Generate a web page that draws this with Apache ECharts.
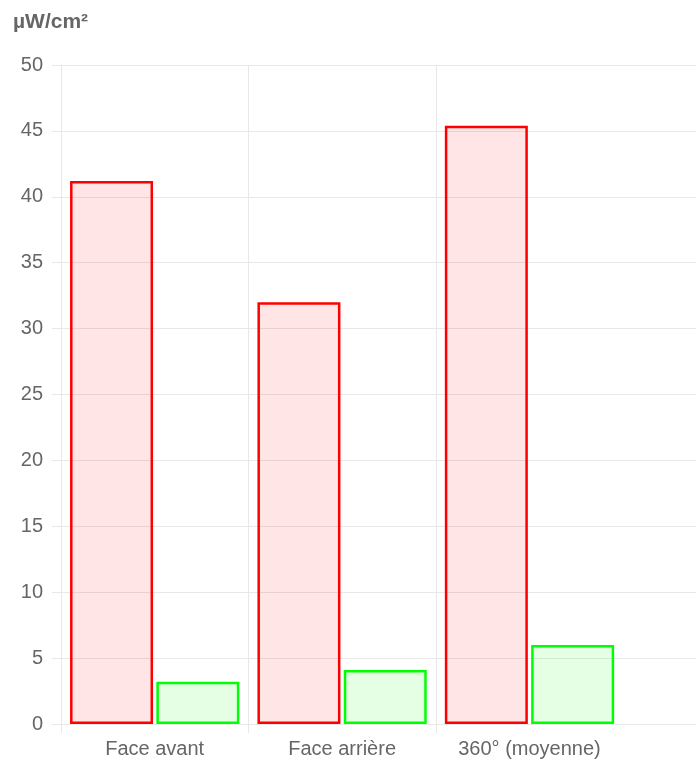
<!DOCTYPE html>
<html>
<head>
<meta charset="utf-8">
<script src="https://cdn.jsdelivr.net/npm/echarts@6/dist/echarts.min.js"></script>
<style>
html,body{margin:0;padding:0;background:#fff;}
#chart{width:696px;height:759px;}
</style>
</head>
<body>
<div id="chart"></div>
<script>
const categories = ['Face avant', 'Face arrière', '360° (moyenne)'];
const redValues = [41.2, 32.0, 45.4];
const greenValues = [3.2, 4.1, 6.0];
const yUnit = 'µW/cm²';

const FONT = "'Liberation Sans', Arial, sans-serif";
const GRID = '#e8e8e8';
const TXT = '#666';

// a trailing empty slot keeps the plot running past the last category, as in the reference
const xCats = categories.concat(['']);
const pad = arr => arr.concat([null]);

const chart = echarts.init(document.getElementById('chart'), null, {renderer: 'canvas'});
chart.setOption({
  animation: false,
  title: {
    text: yUnit, left: 8, top: 7,
    textStyle: {fontFamily: FONT, fontSize: 21, fontWeight: 'bold', color: TXT}
  },
  grid: {left: 61, top: 65, height: 659, width: 749.6, containLabel: false, outerBoundsMode: 'none'},
  xAxis: {
    type: 'category',
    data: xCats,
    boundaryGap: true,
    axisLine: {show: true, lineStyle: {color: GRID, width: 1}},
    axisTick: {show: true, length: 9, lineStyle: {color: GRID},
      interval: function (i) { return i < categories.length; }},
    splitLine: {show: true, lineStyle: {color: GRID},
      interval: function (i) { return i < categories.length; }},
    axisLabel: {fontFamily: FONT, fontSize: 20, color: TXT, margin: 15, interval: 0}
  },
  yAxis: {
    type: 'value', min: 0, max: 50, interval: 5,
    axisLine: {show: true, lineStyle: {color: GRID}},
    axisTick: {show: true, length: 9, lineStyle: {color: GRID}},
    splitLine: {show: true, lineStyle: {color: GRID}},
    axisLabel: {fontFamily: FONT, fontSize: 20, color: TXT, margin: 18}
  },
  series: [
    {
      type: 'bar', data: pad(redValues), barWidth: 83, barGap: '4%',
      itemStyle: {color: 'rgba(255,0,0,0.1)', borderColor: '#ff0000', borderWidth: 2.5}
    },
    {
      type: 'bar', data: pad(greenValues), barWidth: 83, barGap: '4%',
      itemStyle: {color: 'rgba(0,255,0,0.1)', borderColor: '#00ff00', borderWidth: 2.5}
    }
  ]
});
</script>
</body>
</html>
